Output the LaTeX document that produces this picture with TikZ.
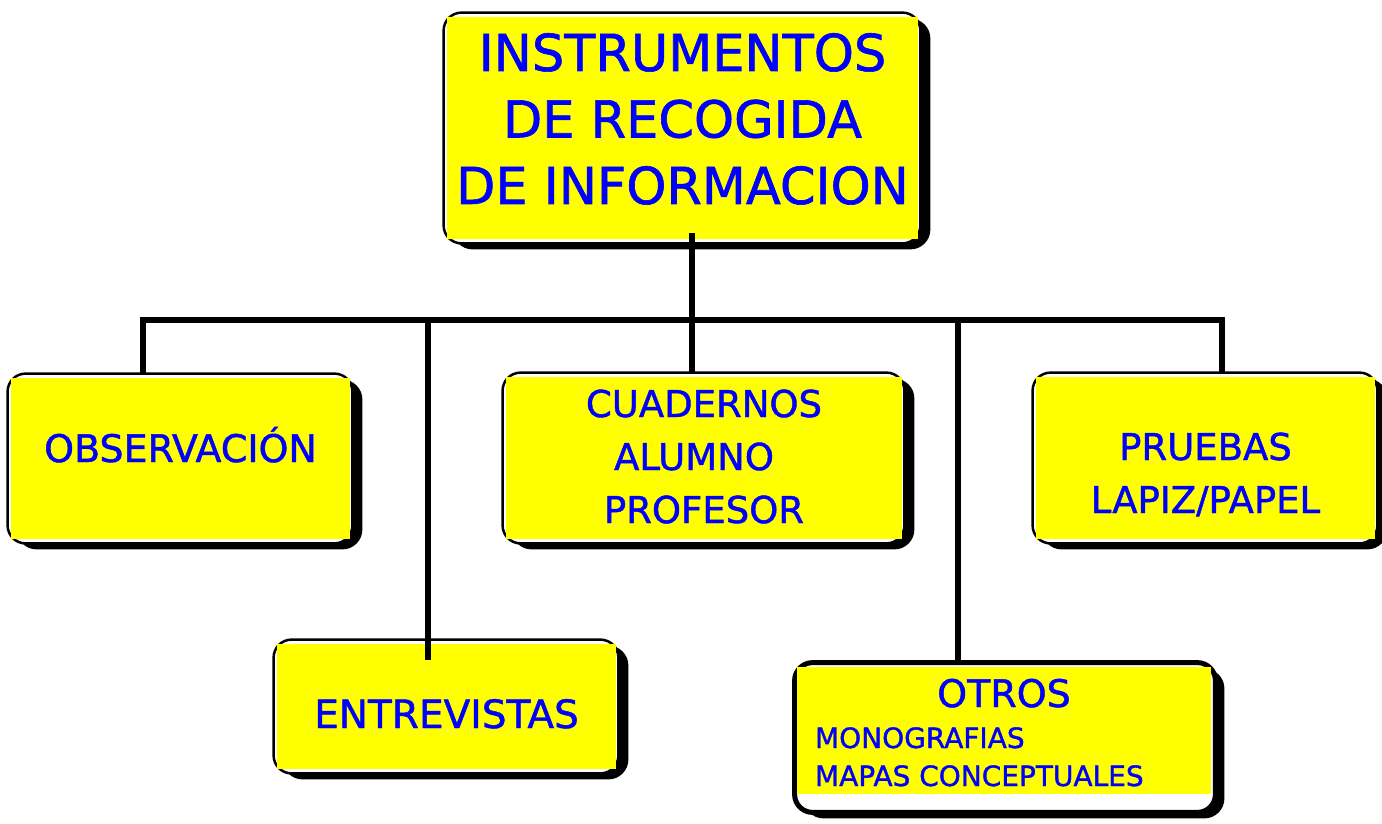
\documentclass[tikz,border=0pt]{standalone}
\usepackage{fontspec}
\setmainfont[FakeBold=1.2]{DejaVu Sans}
\usetikzlibrary{positioning,backgrounds,calc}
\definecolor{paneyellow}{RGB}{255,255,0}
\definecolor{paneblue}{RGB}{0,0,255}
\newcommand{\panetext}[2]{\raisebox{#1}[0pt][0pt]{\begin{tabular}[t]{@{}c@{}}#2\end{tabular}}}
\tikzset{
  pane/.style={fill=paneyellow, inner sep=0pt, text=paneblue},
  link/.style={line width=2.75pt, draw=black},
  rim/.style={line width=1.25pt, draw=black, fill=white, rounded corners=9pt},
  drop/.style={fill=black, rounded corners=10pt}
}

\begin{document}
\begin{tikzpicture}[x=0.5pt, y=-0.5pt]
    \useasboundingbox (0,0) rectangle (1382,824);

    % boxes
    \node[pane, minimum width=235.5pt, minimum height=111pt, font=\fontsize{25.5}{33.25}\selectfont] (top) at (682.5,128)
      {\panetext{28.5pt}{INSTRUMENTOS\\DE RECOGIDA\\DE INFORMACION}};
    \node[pane, minimum width=169.5pt, minimum height=80.5pt, font=\fontsize{19}{26.5}\selectfont] (obs) at (180.5,458.5)
      {\panetext{-1.75pt}{OBSERVACIÓN}};
    \node[pane, minimum width=198pt, minimum height=81pt, font=\fontsize{18.5}{26.5}\selectfont] (cua) at (704,458)
      {\panetext{20.5pt}{CUADERNOS\\ALUMNO\hspace*{10pt}\\PROFESOR}};
    \node[pane, minimum width=169.5pt, minimum height=81pt, font=\fontsize{18.5}{26.5}\selectfont] (pru) at (1205.5,458)
      {\panetext{-1pt}{PRUEBAS\\LAPIZ/PAPEL}};
    \node[pane, minimum width=169.5pt, minimum height=62.5pt, font=\fontsize{19.5}{26.5}\selectfont] (ent) at (446.5,706.5)
      {\panetext{-10.75pt}{ENTREVISTAS}};
    \node[pane, minimum width=207pt, minimum height=63.5pt, font=\fontsize{14}{19}\selectfont] (otr) at (1004,730.5)
      {\raisebox{11.75pt}[0pt][0pt]{\begin{tabular}[t]{@{}p{189pt}@{}}
        \multicolumn{1}{@{}c@{}}{\fontsize{19}{19}\selectfont OTROS}\\[1.5pt]
        MONOGRAFIAS\\
        MAPAS CONCEPTUALES
      \end{tabular}}};

    % shadows and rims
    \begin{scope}[on background layer]
      \foreach \n in {top,obs,cua,pru,ent} {
        \fill[drop] ([shift={(6,2)}]\n.north west) rectangle ([shift={(12,10)}]\n.south east);
        \draw[rim] ([shift={(-3,-4)}]\n.north west) rectangle ([shift={(2,4)}]\n.south east);
      }
      \fill[drop] ([shift={(7,2)}]otr.north west) rectangle ([shift={(13,24)}]otr.south east);
      \draw[rim, line width=2.5pt] ([shift={(-2,-4)}]otr.north west) rectangle ([shift={(4,18)}]otr.south east);
    \end{scope}

    % connector ends
    \coordinate (bus) at (0,320);
    \coordinate (top-b) at ([shift={(9.5,-6)}]top.south);
    \coordinate (cua-t) at ([shift={(-12,-4)}]cua.north);
    \coordinate (obs-t) at ([shift={(-37.5,-4)}]obs.north);
    \coordinate (pru-t) at ([shift={(16.5,-4)}]pru.north);
    \coordinate (ent-t) at ([shift={(-18.5,16)}]ent.north);
    \coordinate (otr-t) at ([shift={(-46,-7)}]otr.north);

    \draw[link] (top-b) -- (cua-t);
    \draw[link] (obs-t) |- (bus -| pru-t) -- (pru-t);
    \draw[link] (bus -| ent-t) -- (ent-t);
    \draw[link] (bus -| otr-t) -- (otr-t);
\end{tikzpicture}
\end{document}
